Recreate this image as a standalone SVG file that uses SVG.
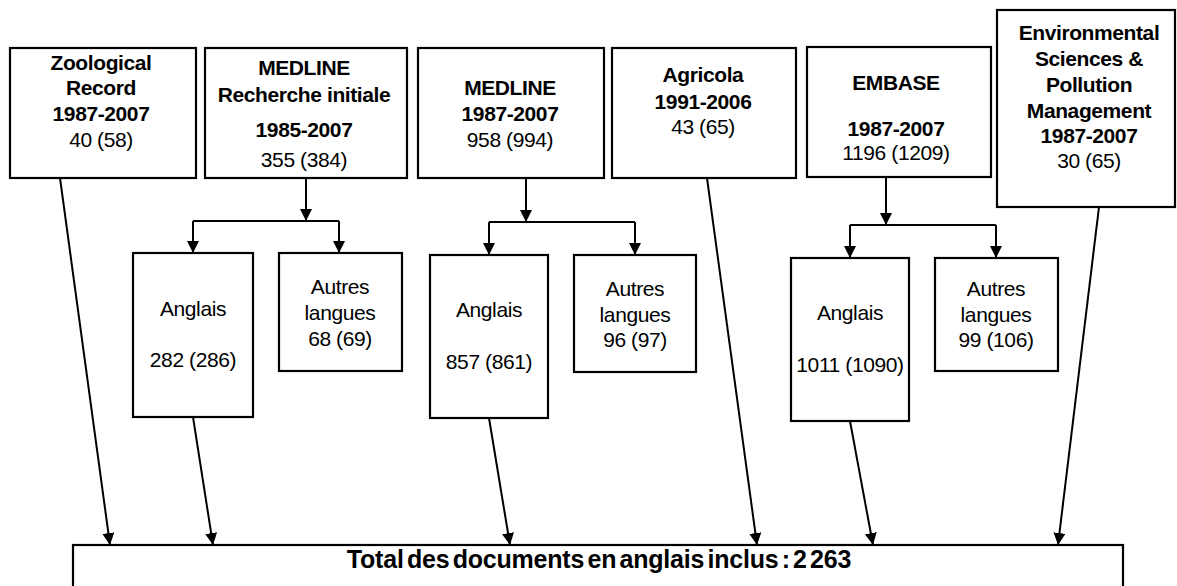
<svg xmlns="http://www.w3.org/2000/svg" width="1177" height="586" viewBox="0 0 1177 586">
<defs>
<style>
.box{fill:#fff;stroke:#000;stroke-width:2.2}
.t{font-family:"Liberation Sans",Arial,sans-serif;font-size:21px;letter-spacing:-0.4px;fill:#000;text-anchor:middle}
.b{font-weight:bold}
.c{stroke:#000;stroke-width:2;fill:none}
</style>
<marker id="ah" markerUnits="userSpaceOnUse" markerWidth="12" markerHeight="14" viewBox="0 0 12 14" refX="12" refY="6" orient="auto">
<path d="M0,0 L12,6 L0,12 Z" fill="#000"/>
</marker>
</defs>
<rect width="1177" height="586" fill="#fff"/>

<g id="zoological">
<rect class="box" x="10" y="48" width="186" height="130"/>
<text class="t b" x="101" y="70">Zoological</text>
<text class="t b" x="101" y="95">Record</text>
<text class="t b" x="101" y="121">1987-2007</text>
<text class="t" x="101" y="147">40 (58)</text>
</g>

<g id="medline-initiale">
<rect class="box" x="205" y="48" width="202" height="130"/>
<text class="t b" x="304" y="75">MEDLINE</text>
<text class="t b" x="304" y="102">Recherche initiale</text>
<text class="t b" x="304" y="137">1985-2007</text>
<text class="t" x="304" y="167">355 (384)</text>
</g>

<g id="medline-1987">
<rect class="box" x="418" y="48" width="186" height="130"/>
<text class="t b" x="510" y="95">MEDLINE</text>
<text class="t b" x="510" y="121">1987-2007</text>
<text class="t" x="510" y="147">958 (994)</text>
</g>

<g id="agricola">
<rect class="box" x="612" y="48" width="184" height="130"/>
<text class="t b" x="703" y="82">Agricola</text>
<text class="t b" x="703" y="109">1991-2006</text>
<text class="t" x="703" y="134">43 (65)</text>
</g>

<g id="embase">
<rect class="box" x="807" y="47" width="184" height="130"/>
<text class="t b" x="896" y="90">EMBASE</text>
<text class="t b" x="896" y="136">1987-2007</text>
<text class="t" x="896" y="160">1196 (1209)</text>
</g>

<g id="environmental">
<rect class="box" x="997" y="10" width="178" height="197"/>
<text class="t b" x="1089" y="40">Environmental</text>
<text class="t b" x="1089" y="66">Sciences &amp;</text>
<text class="t b" x="1089" y="92">Pollution</text>
<text class="t b" x="1089" y="118">Management</text>
<text class="t b" x="1089" y="143">1987-2007</text>
<text class="t" x="1089" y="168">30 (65)</text>
</g>

<g id="anglais-1">
<rect class="box" x="133" y="253" width="120" height="164"/>
<text class="t" x="193" y="316">Anglais</text>
<text class="t" x="193" y="367">282 (286)</text>
</g>

<g id="autres-1">
<rect class="box" x="279" y="253" width="123" height="118"/>
<text class="t" x="340" y="294">Autres</text>
<text class="t" x="340" y="320">langues</text>
<text class="t" x="340" y="346">68 (69)</text>
</g>

<g id="anglais-2">
<rect class="box" x="430" y="255" width="118" height="163"/>
<text class="t" x="489" y="317">Anglais</text>
<text class="t" x="489" y="369">857 (861)</text>
</g>

<g id="autres-2">
<rect class="box" x="574" y="255" width="122" height="117"/>
<text class="t" x="635" y="296">Autres</text>
<text class="t" x="635" y="322">langues</text>
<text class="t" x="635" y="347">96 (97)</text>
</g>

<g id="anglais-3">
<rect class="box" x="791" y="258" width="118" height="163"/>
<text class="t" x="850" y="320">Anglais</text>
<text class="t" x="850" y="372">1011 (1090)</text>
</g>

<g id="autres-3">
<rect class="box" x="935" y="258" width="123" height="113"/>
<text class="t" x="996" y="296">Autres</text>
<text class="t" x="996" y="322">langues</text>
<text class="t" x="996" y="347">99 (106)</text>
</g>

<g id="total">
<rect class="box" x="73" y="545" width="1050" height="60"/>
<text class="t b" x="599" y="568" style="font-size:25px;letter-spacing:-0.2px;word-spacing:-3.5px">Total des documents en anglais inclus : 2 263</text>
</g>

<g id="connectors">
<path class="c" d="M306,178 V221" marker-end="url(#ah)"/>
<path class="c" d="M193,221 H339"/>
<path class="c" d="M193,221 V253" marker-end="url(#ah)"/>
<path class="c" d="M339,221 V253" marker-end="url(#ah)"/>

<path class="c" d="M526,178 V222" marker-end="url(#ah)"/>
<path class="c" d="M489,222 H635"/>
<path class="c" d="M489,222 V255" marker-end="url(#ah)"/>
<path class="c" d="M635,222 V255" marker-end="url(#ah)"/>

<path class="c" d="M886,177 V225" marker-end="url(#ah)"/>
<path class="c" d="M850,225 H996"/>
<path class="c" d="M850,225 V258" marker-end="url(#ah)"/>
<path class="c" d="M996,225 V258" marker-end="url(#ah)"/>

<path class="c" d="M60,178 L110,545" marker-end="url(#ah)"/>
<path class="c" d="M193,417 L213,545" marker-end="url(#ah)"/>
<path class="c" d="M489,418 L510,545" marker-end="url(#ah)"/>
<path class="c" d="M707,178 L757,545" marker-end="url(#ah)"/>
<path class="c" d="M850,421 L873,545" marker-end="url(#ah)"/>
<path class="c" d="M1099,207 L1058,545" marker-end="url(#ah)"/>
</g>
</svg>
